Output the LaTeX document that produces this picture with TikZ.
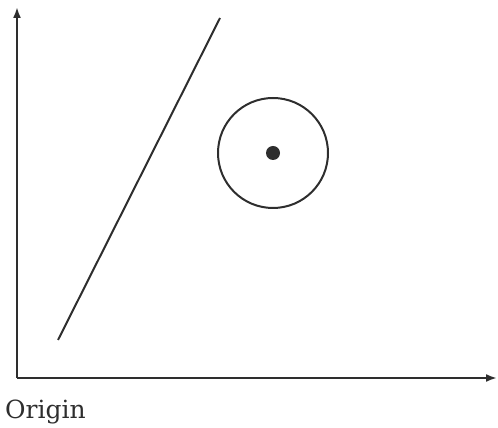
\documentclass[tikz,border=0pt]{standalone}
\usepackage{fontspec}
\setmainfont{DejaVu Serif}
\usepackage{xcolor}
\usepackage{tikz}
\usetikzlibrary{arrows.meta}
\definecolor{ink}{HTML}{2E2E2E}

\begin{document}
\begin{tikzpicture}[x=1pt,y=1pt,
  axis/.style={draw=ink,line width=2pt},
  ring/.style={circle,draw=ink,line width=2pt,minimum size=110pt,inner sep=0pt},
  spot/.style={circle,fill=ink,minimum size=14pt,inner sep=0pt},
  lab/.style={font=\fontsize{25}{28}\selectfont,text=ink,inner sep=0pt},
  >={Latex[length=11pt,width=8pt]}]
  \useasboundingbox (0,0) rectangle (498,428);
  \coordinate (origin) at (17,50);
  \coordinate (ytop) at (17,421);
  \coordinate (xend) at (497,50);
  \coordinate (lstart) at (58,88);
  \coordinate (lend) at (220,410);
  \node[ring] (circ) at (273,275) {};
  \node[spot] (centre) at (circ.center) {};
  \node[lab,anchor=base west] (olabel) at (5,9) {Origin};
  \draw[axis,->] (origin) -- (ytop);
  \draw[axis,->] (origin) -- (xend);
  \draw[axis] (lstart) -- (lend);
\end{tikzpicture}
\end{document}
